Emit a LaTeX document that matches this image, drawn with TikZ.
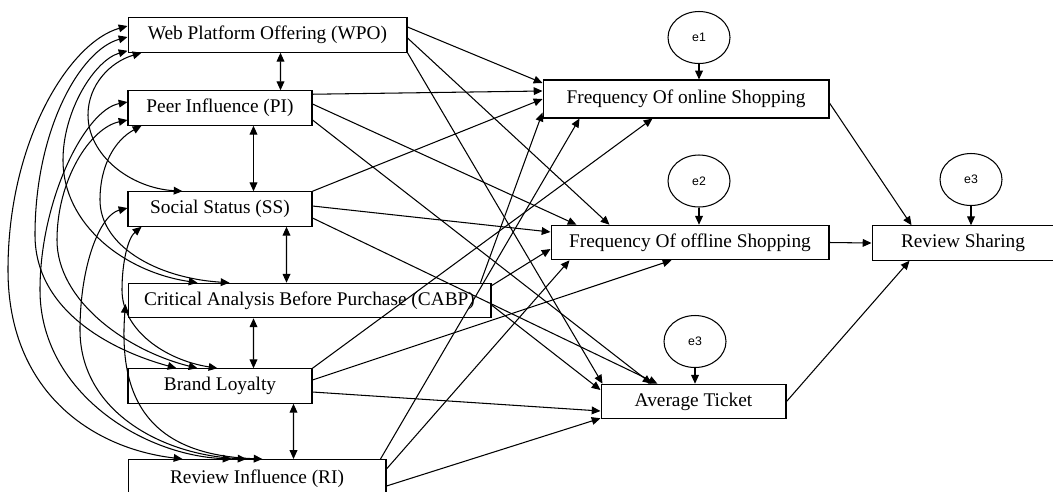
\documentclass[tikz,border=0pt]{standalone}
\usepackage{fontspec}
\setmainfont{Liberation Serif}
\newfontfamily\errfont{Liberation Sans}
\usepackage{tikz}
\usetikzlibrary{shapes.geometric, arrows.meta, calc}

\begin{document}
\begin{tikzpicture}[x = 0.02cm, y = -0.02cm, line width = 0.6pt,
    box/.style = {draw, rectangle, inner sep = 0pt, minimum height = 0.69cm, font = \fontsize{11}{13}\selectfont},
    err/.style = {draw, ellipse, inner sep = 0pt, minimum width = 1.24cm, minimum height = 1.04cm, font = \errfont\fontsize{7}{8}\selectfont},
    reg/.style = {-{Triangle[length = 5pt, width = 4.4pt]}},
    cov/.style = {{Triangle[length = 5pt, width = 4.4pt]}-{Triangle[length = 5pt, width = 4.4pt]}}]
    \useasboundingbox (0,0) rectangle (1053,491);
    % Variabili esogene
    \node[box, minimum width = 5.58cm] (wpo) at (267.5,35) {Web Platform Offering (WPO)};
    \node[box, minimum width = 3.68cm] (pi) at (220,108) {Peer Influence (PI)};
    \node[box, minimum width = 3.68cm] (ss) at (220,209) {Social Status (SS)};
    \node[box, minimum width = 7.26cm] (cabp) at (309.5,300.5) {Critical Analysis Before Purchase (CABP)};
    \node[box, minimum width = 3.68cm] (bl) at (220,386) {Brand Loyalty};
    \node[box, minimum width = 5.16cm, minimum height = 0.78cm] (ri) at (257,479) {Review Influence (RI)};
    % Variabili endogene
    \node[box, minimum width = 5.72cm, minimum height = 0.76cm] (fos) at (686,99) {Frequency Of online Shopping};
    \node[box, minimum width = 5.56cm] (fofs) at (690,242.5) {Frequency Of offline Shopping};
    \node[box, minimum width = 3.64cm] (rs) at (963,243) {Review Sharing};
    \node[box, minimum width = 3.70cm] (at) at (693.5,401.5) {Average Ticket};
    % Errori
    \node[err] (e1) at (699,37.5) {e1};
    \node[err] (e2) at (699,181) {e2};
    \node[err] (e3) at (971,179.5) {e3};
    \node[err] (e4) at (695,341.5) {e3};
    \draw[reg] (e1.south) -- (e1.south |- fos.north);
    \draw[reg] (e2.south) -- (e2.south |- fofs.north);
    \draw[reg] (e3.south) -- (e3.south |- rs.north);
    \draw[reg] (e4.south) -- (e4.south |- at.north);
    % Covarianze tra vicini
    \draw[cov] ($(wpo.south west)+(153,0)$) -- ($(pi.north west)+(153,0)$);
    \draw[cov] ($(pi.south west)+(126,0)$) -- ($(ss.north west)+(126,0)$);
    \draw[cov] ($(ss.south west)+(159,0)$) -- ($(cabp.north west)+(159,0)$);
    \draw[cov] ($(cabp.south west)+(126,0)$) -- ($(bl.north west)+(126,0)$);
    \draw[cov] ($(bl.south west)+(166,0)$) -- ($(ri.north west)+(166,0)$);
    % Covarianze curve
    \draw[cov] ($(wpo.west)+(0,-9)$) .. controls (70,42) and (8,140) .. (8,270)
        .. controls (8,390) and (90,448) .. ($(ri.north west)+(55,0)$);
    \draw[cov] ($(wpo.west)+(0,2)$) .. controls (80,50) and (35,130) .. (35,235)
        .. controls (35,310) and (110,350) .. ($(bl.north west)+(49,0)$);
    \draw[cov] ($(pi.west)+(0,-6)$) .. controls (85,110) and (40,200) .. (40,290)
        .. controls (40,390) and (140,455) .. ($(ri.north west)+(104,0)$);
    \draw[cov] ($(pi.west)+(0,12)$) .. controls (90,128) and (57,180) .. (57,240)
        .. controls (57,300) and (125,350) .. ($(bl.north west)+(70,0)$);
    \draw[cov] ($(wpo.south west)+(0,-2)$) .. controls (95,60) and (63,110) .. (63,160)
        .. controls (63,225) and (125,272) .. ($(cabp.north west)+(70,0)$);
    \draw[cov] ($(pi.south west)+(14,0)$) .. controls (115,140) and (100,165) .. (100,200)
        .. controls (100,245) and (155,278) .. ($(cabp.north west)+(102,0)$);
    \draw[cov] ($(wpo.south west)+(14,0)$) .. controls (110,62) and (88,85) .. (88,115)
        .. controls (88,155) and (130,188) .. ($(ss.north west)+(55,0)$);
    \draw[cov] ($(ss.west)+(0,-1)$) .. controls (100,215) and (80,265) .. (80,330)
        .. controls (80,410) and (160,455) .. ($(ri.north west)+(119,0)$);
    \draw[cov] ($(ss.south west)+(14,0)$) .. controls (128,238) and (122,262) .. (122,290)
        .. controls (122,330) and (165,360) .. ($(bl.north west)+(90,0)$);
    \draw[cov] ($(cabp.west)+(-2,3.5)$) .. controls (118,400) and (150,455) .. ($(ri.north west)+(135,0)$);
    % Percorsi
    \draw[reg] ($(wpo.east)+(0,-8)$) -- ($(fos.west)+(0,-16)$);
    \draw[reg] ($(wpo.east)+(0,3)$) -- ($(fofs.north west)+(59,0)$);
    \draw[reg] (wpo.south east) -- ($(at.north west)+(2,0)$);
    \draw[reg] ($(pi.north east)+(0,4)$) -- ($(fos.west)+(0,-8)$);
    \draw[reg] ($(pi.east)+(0,-4)$) -- ($(fofs.north west)+(26,0)$);
    \draw[reg] ($(pi.east)+(0,12)$) -- ($(at.north west)+(51,0)$);
    \draw[reg] (ss.north east) -- (fos.west);
    \draw[reg] ($(ss.east)+(0,-3)$) -- ($(fofs.west)+(0,-10.5)$);
    \draw[reg] ($(ss.east)+(0,9)$) -- ($(at.north west)+(57,0)$);
    \draw[reg] ($(cabp.north east)+(-11,0)$) -- ($(fos.south west)+(0,-6)$);
    \draw[reg] ($(cabp.north east)+(0,3)$) -- ($(fofs.west)+(0,6.5)$);
    \draw[reg] ($(cabp.east)+(0,4.5)$) -- ($(at.west)+(0,-11.5)$);
    \draw[reg] (bl.north east) -- ($(fos.south west)+(110,0)$);
    \draw[reg] ($(bl.east)+(0,-6)$) -- ($(fofs.south west)+(121,0)$);
    \draw[reg] ($(bl.east)+(0,6)$) -- ($(at.west)+(0,9.5)$);
    \draw[reg] ($(ri.north east)+(-6,0)$) -- ($(fos.south west)+(37,0)$);
    \draw[reg] ($(ri.north east)+(0,10)$) -- ($(fofs.south west)+(19,0)$);
    \draw[reg] ($(ri.east)+(0,7)$) -- ($(at.south west)+(0,-1)$);
    \draw[reg] ($(fos.east)+(0,4)$) -- ($(rs.north west)+(40,0)$);
    \draw[reg] (fofs.east) -- (rs.west);
    \draw[reg] (at.east) -- ($(rs.south west)+(38,0)$);
\end{tikzpicture}
\end{document}
